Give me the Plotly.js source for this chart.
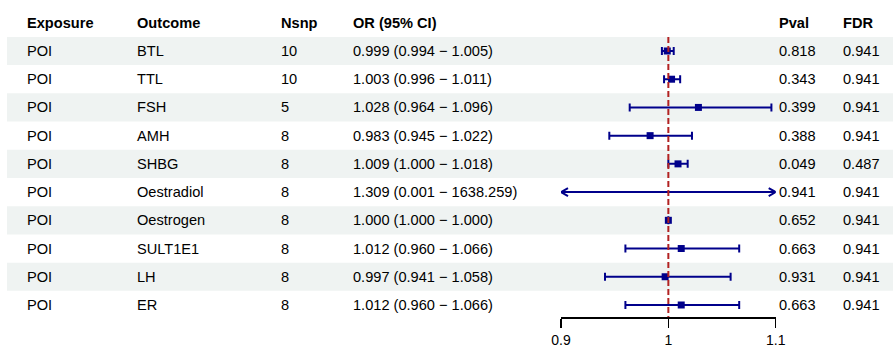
<!DOCTYPE html>
<html>
<head>
<meta charset="utf-8">
<script src="https://cdn.plot.ly/plotly-3.0.1.min.js"></script>
<style>html,body{margin:0;padding:0;background:#fff;}#chart{width:893px;height:347px;}</style>
</head>
<body>
<div id="chart"></div>
<script>
var headers = ['Exposure', 'Outcome', 'Nsnp', 'OR (95% CI)', 'Pval', 'FDR'];
var exposure = ['POI', 'POI', 'POI', 'POI', 'POI', 'POI', 'POI', 'POI', 'POI', 'POI'];
var outcome = ['BTL', 'TTL', 'FSH', 'AMH', 'SHBG', 'Oestradiol', 'Oestrogen', 'SULT1E1', 'LH', 'ER'];
var nsnp = [10, 10, 5, 8, 8, 8, 8, 8, 8, 8];
var orv = [0.999, 1.003, 1.028, 0.983, 1.009, 1.309, 1.000, 1.012, 0.997, 1.012];
var lo = [0.994, 0.996, 0.964, 0.945, 1.000, 0.001, 1.000, 0.960, 0.941, 0.960];
var hi = [1.005, 1.011, 1.096, 1.022, 1.018, 1638.259, 1.000, 1.066, 1.058, 1.066];
var pval = [0.818, 0.343, 0.399, 0.388, 0.049, 0.941, 0.652, 0.663, 0.931, 0.663];
var fdr = [0.941, 0.941, 0.941, 0.941, 0.487, 0.941, 0.941, 0.941, 0.941, 0.941];
var tickVals = [0.9, 1, 1.1];
var tickText = ['0.9', '1', '1.1'];

var W = 893;
var xmin = 0.9, xmax = 1.1;
var colX = [25, 135, 279, 351, 777, 841];
var font = {family: 'Liberation Sans, Arial, sans-serif', size: 14.6, color: '#000'};
var tfont = {family: 'Liberation Sans, Arial, sans-serif', size: 14, color: '#000'};
var navy = '#00008B';

var n = outcome.length;
var rows = [];
for (var i = 0; i < n; i++) rows.push(i + 1);

var annotations = [];
headers.forEach(function (h, c) {
  annotations.push({xref: 'paper', yref: 'y', x: colX[c] / W, y: 0, text: '<b>' + h + '</b>',
    showarrow: false, xanchor: 'left', yanchor: 'middle', font: font});
});
for (var i = 0; i < n; i++) {
  var cells = [exposure[i], outcome[i], String(nsnp[i]),
    orv[i].toFixed(3) + ' (' + lo[i].toFixed(3) + ' \u2212 ' + hi[i].toFixed(3) + ')',
    pval[i].toFixed(3), fdr[i].toFixed(3)];
  cells.forEach(function (t, c) {
    annotations.push({xref: 'paper', yref: 'y', x: colX[c] / W, y: rows[i], text: t,
      showarrow: false, xanchor: 'left', yanchor: 'middle', font: font});
  });
}

var shapes = [];
for (var i = 0; i < n; i++) {
  if (i % 2 === 0) {
    shapes.push({type: 'rect', xref: 'paper', yref: 'y', x0: 7 / W, x1: 1, y0: rows[i] - 0.5, y1: rows[i] + 0.5,
      fillcolor: '#eff3f2', line: {width: 0}, layer: 'below'});
  }
}

// points inside range use error bars; out-of-range CIs drawn as clipped lines with arrows
var px = [], py = [], ep = [], em = [];
for (var i = 0; i < n; i++) {
  if (lo[i] < xmin || hi[i] > xmax) {
    var a = Math.max(lo[i], xmin), b = Math.min(hi[i], xmax);
    shapes.push({type: 'line', xref: 'x', yref: 'y', x0: a, x1: b, y0: rows[i], y1: rows[i],
      line: {color: navy, width: 2}});
    if (lo[i] < xmin) {
      shapes.push({type: 'path', xref: 'x', yref: 'y', xsizemode: 'pixel', ysizemode: 'pixel',
        xanchor: xmin, yanchor: rows[i], path: 'M 7 4 L 0 0 L 7 -4', line: {color: navy, width: 2}});
    }
    if (hi[i] > xmax) {
      shapes.push({type: 'path', xref: 'x', yref: 'y', xsizemode: 'pixel', ysizemode: 'pixel',
        xanchor: xmax, yanchor: rows[i], path: 'M -7 4 L 0 0 L -7 -4', line: {color: navy, width: 2}});
    }
    if (orv[i] >= xmin && orv[i] <= xmax) {
      px.push(orv[i]); py.push(rows[i]); ep.push(0); em.push(0);
    }
  } else {
    px.push(orv[i]); py.push(rows[i]); ep.push(hi[i] - orv[i]); em.push(orv[i] - lo[i]);
  }
}

shapes.push({type: 'line', xref: 'x', yref: 'y', x0: 1, x1: 1, y0: 0.5, y1: 10.437,
  line: {color: '#B22222', width: 2, dash: '6px,3px'}, layer: 'above'});

var trace = {
  type: 'scatter', mode: 'markers', x: px, y: py,
  marker: {symbol: 'square', size: 7, color: navy},
  error_x: {type: 'data', symmetric: false, array: ep, arrayminus: em, color: navy, thickness: 2, width: 4},
  hoverinfo: 'skip', showlegend: false
};

var layout = {
  width: 893, height: 347,
  margin: {l: 0, r: 0, t: 0, b: 0},
  paper_bgcolor: '#fff', plot_bgcolor: 'rgba(0,0,0,0)',
  xaxis: {domain: [561 / W, 775.7 / W], range: [xmin, xmax], showgrid: false, zeroline: false,
    showline: true, linecolor: '#000', linewidth: 1.5, ticks: 'outside', ticklen: 9, tickwidth: 1.5,
    tickcolor: '#000', tickvals: tickVals, ticktext: tickText, tickfont: tfont, fixedrange: true},
  yaxis: {domain: [(347 - 317.3) / 347, 1], range: [10.437, -0.807], showgrid: false, zeroline: false,
    showline: false, showticklabels: false, ticks: '', fixedrange: true},
  shapes: shapes,
  annotations: annotations
};

Plotly.newPlot('chart', [trace], layout, {displayModeBar: false, staticPlot: true});
</script>
</body>
</html>
